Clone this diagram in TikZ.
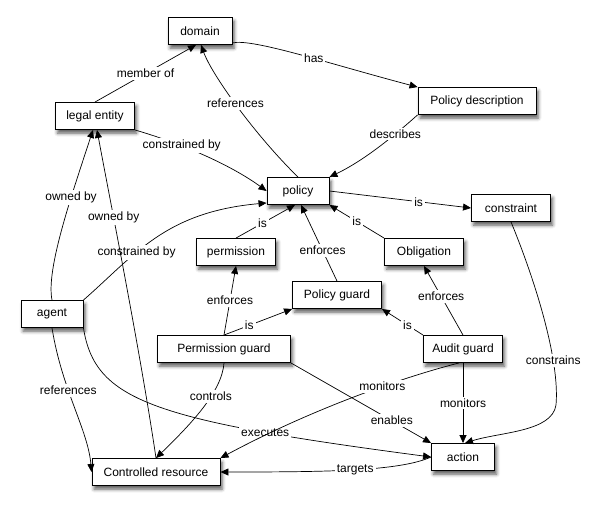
\documentclass[tikz,border=0pt]{standalone}
\usepackage{fontspec}
\setmainfont{Liberation Sans}
\usetikzlibrary{arrows.meta,shadows.blur}

\begin{document}
\begin{tikzpicture}[x=1pt,y=-1pt,line width=0.7pt,
    >={Triangle[length=8pt,width=7pt]},
    thing/.style={draw,fill=white,line width=0.9pt,minimum height=27pt,inner xsep=2pt,
      font=\fontsize{12}{14}\selectfont,
      blur shadow={shadow xshift=2pt,shadow yshift=-3.5pt,shadow blur radius=3.5pt,shadow opacity=65}},
    rel/.style={fill=white,inner sep=2pt,font=\fontsize{12}{14}\selectfont}]
  \useasboundingbox (0,0) rectangle (599,509);
  % the boxes
  \node[thing,minimum width=64pt] (domain) at (200,31) {domain};
  \node[thing,minimum width=79pt] (legal) at (95,116) {legal entity};
  \node[thing,minimum width=118pt] (pdesc) at (477,101) {Policy description};
  \node[thing,minimum width=62pt] (policy) at (298,191) {policy};
  \node[thing,minimum width=79pt] (constraint) at (511,208) {constraint};
  \node[thing,minimum width=79pt] (permission) at (236,252) {permission};
  \node[thing,minimum width=79pt] (obligation) at (424,252) {Obligation};
  \node[thing,minimum width=89pt] (pguard) at (337,295) {Policy guard};
  \node[thing,minimum width=62pt] (agent) at (52,314) {agent};
  \node[thing,minimum width=133pt] (permguard) at (224,349) {Permission guard};
  \node[thing,minimum width=79pt] (audit) at (463,349) {Audit guard};
  \node[thing,minimum width=128pt] (resource) at (156,472) {Controlled resource};
  \node[thing,minimum width=63pt] (action) at (463,457) {action};
  \coordinate (turn) at (556,405);
  % the relations
  \draw[->] (legal.north) -- node[rel]{member of} ([xshift=-4pt]domain.south);
  \draw[->] ([yshift=2pt]domain.south east) .. controls (252,38) and (330,64) .. node[rel,pos=0.57]{has} (pdesc.north west);
  \draw[->] (policy.north) .. controls (255,135) and (212,75) .. node[rel,pos=0.52]{references} ([xshift=1pt]domain.south);
  \draw[->] (pdesc.south west) .. controls (395,135) and (365,160) .. node[rel,pos=0.3]{describes} (policy.north east);
  \draw[->] (legal.south east) .. controls (190,146) and (235,168) .. node[rel,pos=0.3]{constrained by} (policy.west);
  \draw[->] (policy.east) -- node[rel,pos=0.63]{is} (constraint.west);
  \draw[->] (permission.north) -- node[rel,pos=0.45]{is} ([xshift=-3pt]policy.south);
  \draw[->] (pguard.north) -- node[rel,pos=0.4]{enforces} ([xshift=3pt]policy.south);
  \draw[->] (obligation.north west) -- node[rel]{is} (policy.south east);
  \draw[->] (agent.north east) .. controls (135,255) and (165,212) .. node[rel,pos=0.37]{constrained by} ([yshift=2pt]policy.south west);
  \draw[->] (agent.north) .. controls (46,270) and (70,200) .. node[rel,pos=0.67]{owned by} ([xshift=-2pt]legal.south);
  \draw[->] (resource.north) .. controls (140,350) and (110,200) .. node[rel,pos=0.68]{owned by} ([xshift=2pt]legal.south);
  \draw[->] (permguard.north) -- node[rel]{enforces} (permission.south);
  \draw[->] (permguard.north) -- node[rel,pos=0.37]{is} (pguard.south west);
  \draw[->] (audit.north) -- node[rel,pos=0.56]{enforces} (obligation.south);
  \draw[->] (audit.north west) -- node[rel,pos=0.38]{is} (pguard.south east);
  \draw[->] (agent.south) .. controls (62,390) and (88,430) .. node[rel,pos=0.38]{references} (resource.west);
  \draw[->] (agent.south east) .. controls (95,400) and (150,420) .. node[rel,pos=0.76]{executes} (action.west);
  \draw[->] (permguard.south) .. controls (222,392) and (190,425) .. node[rel,pos=0.37]{controls} (resource.north);
  \draw[->] (permguard.south east) -- node[rel,pos=0.72]{enables} (action.north west);
  \draw[->] ([xshift=-4pt]audit.south) .. controls (400,378) and (310,410) .. node[rel,pos=0.37]{monitors} (resource.north east);
  \draw[->] (audit.south) -- node[rel]{monitors} (action.north);
  \draw[->] (constraint.south) .. controls (535,280) and (560,360) .. node[rel,pos=0.72]{constrains} (turn)
    .. controls (552,432) and (500,432) .. ([xshift=2pt]action.north);
  \draw[->] (action.west) .. controls (400,471) and (330,472) .. node[rel,pos=0.5]{targets} (resource.east);
\end{tikzpicture}
\end{document}
